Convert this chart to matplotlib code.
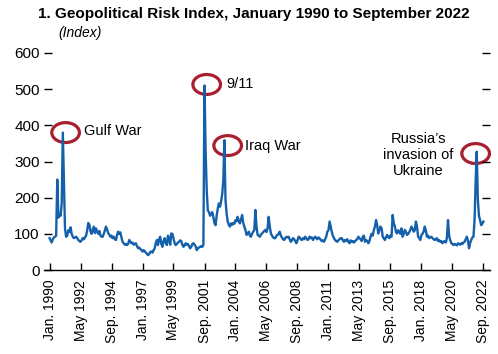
import numpy as np
import pandas as pd
import matplotlib
matplotlib.use("Agg")
import matplotlib.pyplot as plt
import matplotlib.dates as mdates
from matplotlib.patches import Ellipse

plt.rcParams['font.family'] = ['Liberation Sans', 'DejaVu Sans']

# monthly Geopolitical Risk Index, Jan 1990 - Sep 2022
gpr_1990 = [88, 82, 76, 85, 90, 92, 95, 250, 145, 155, 150, 185]
gpr_1991 = [380, 240, 115, 92, 95, 110, 105, 118, 100, 92, 88, 90]
gpr_1992 = [92, 88, 83, 80, 78, 82, 88, 85, 90, 95, 110, 130]
gpr_1993 = [125, 106, 100, 110, 120, 102, 115, 106, 100, 108, 95, 92]
gpr_1994 = [92, 100, 110, 120, 112, 102, 98, 92, 95, 88, 92, 85]
gpr_1995 = [83, 97, 106, 100, 104, 90, 78, 74, 70, 72, 69, 72]
gpr_1996 = [83, 78, 74, 76, 70, 72, 74, 66, 60, 62, 58, 55]
gpr_1997 = [51, 55, 52, 48, 45, 41, 44, 50, 51, 48, 55, 60]
gpr_1998 = [75, 83, 69, 85, 92, 72, 64, 80, 88, 75, 69, 95]
gpr_1999 = [85, 70, 101, 100, 88, 75, 69, 72, 76, 78, 82, 80]
gpr_2000 = [70, 64, 68, 74, 70, 72, 66, 60, 64, 72, 74, 70]
gpr_2001 = [65, 55, 60, 62, 64, 66, 64, 69, 510, 330, 220, 165]
gpr_2002 = [160, 150, 155, 160, 147, 130, 124, 150, 170, 184, 175, 190]
gpr_2003 = [210, 250, 359, 194, 157, 134, 125, 120, 129, 125, 130, 128]
gpr_2004 = [138, 135, 147, 135, 129, 140, 152, 130, 120, 110, 97, 100]
gpr_2005 = [106, 95, 92, 100, 106, 110, 166, 120, 97, 95, 92, 98]
gpr_2006 = [101, 105, 108, 111, 105, 115, 147, 120, 101, 95, 90, 88]
gpr_2007 = [88, 95, 97, 100, 106, 95, 90, 85, 83, 88, 92, 90]
gpr_2008 = [92, 85, 78, 82, 88, 85, 80, 74, 82, 92, 90, 85]
gpr_2009 = [83, 88, 85, 92, 88, 83, 85, 92, 88, 90, 83, 88]
gpr_2010 = [92, 88, 85, 90, 88, 83, 80, 82, 78, 85, 92, 106]
gpr_2011 = [110, 134, 120, 106, 95, 88, 83, 80, 78, 82, 85, 88]
gpr_2012 = [88, 82, 78, 83, 80, 85, 78, 74, 82, 78, 80, 76]
gpr_2013 = [80, 83, 85, 92, 88, 85, 80, 92, 95, 78, 83, 80]
gpr_2014 = [74, 80, 92, 100, 95, 110, 120, 138, 124, 101, 110, 120]
gpr_2015 = [115, 92, 88, 83, 90, 97, 92, 88, 95, 92, 152, 130]
gpr_2016 = [120, 105, 101, 110, 106, 100, 115, 92, 100, 111, 105, 97]
gpr_2017 = [100, 105, 111, 120, 115, 106, 110, 134, 120, 92, 88, 83]
gpr_2018 = [97, 100, 106, 120, 110, 92, 95, 88, 90, 92, 88, 85]
gpr_2019 = [83, 85, 88, 80, 83, 78, 80, 74, 78, 80, 76, 88]
gpr_2020 = [138, 95, 83, 74, 72, 69, 72, 70, 68, 74, 72, 70]
gpr_2021 = [74, 72, 76, 78, 85, 92, 82, 60, 75, 83, 90, 92]
gpr_2022 = [140, 250, 327, 195, 150, 138, 124, 128, 134]

gpr = np.array(gpr_1990 + gpr_1991 + gpr_1992 + gpr_1993 + gpr_1994 + gpr_1995
               + gpr_1996 + gpr_1997 + gpr_1998 + gpr_1999 + gpr_2000 + gpr_2001
               + gpr_2002 + gpr_2003 + gpr_2004 + gpr_2005 + gpr_2006 + gpr_2007
               + gpr_2008 + gpr_2009 + gpr_2010 + gpr_2011 + gpr_2012 + gpr_2013
               + gpr_2014 + gpr_2015 + gpr_2016 + gpr_2017 + gpr_2018 + gpr_2019
               + gpr_2020 + gpr_2021 + gpr_2022, dtype=float)
dates = pd.date_range("1990-01-01", periods=len(gpr), freq="MS")

tick_labels = ["Jan. 1990", "May 1992", "Sep. 1994", "Jan. 1997", "May 1999",
               "Sep. 2001", "Jan. 2004", "May 2006", "Sep. 2008", "Jan. 2011",
               "May 2013", "Sep. 2015", "Jan. 2018", "May 2020", "Sep. 2022"]
tick_dates = dates[::28]

events = ["Gulf War", "9/11", "Iraq War", "Russia\u2019s\ninvasion of\nUkraine"]
event_dates = ["1991-01-01", "2001-09-01", "2003-03-01", "2022-03-01"]

blue = "#1460aa"
red = "#a8202f"

fig = plt.figure(figsize=(4.98, 3.54), dpi=100)
ax = fig.add_axes([44 / 498, 84 / 354, 446 / 498, 217 / 354])

ax.plot(dates, gpr, color=blue, lw=1.7, solid_joinstyle="round")

ax.set_ylim(0, 600)
ax.set_yticks(range(0, 601, 100))
ax.set_xlim(dates[0] - pd.DateOffset(months=5), dates[-1] + pd.DateOffset(months=6))
ax.set_xticks(tick_dates)
ax.set_xticklabels(tick_labels, rotation=90, fontsize=10)

for s in ["top", "left", "right"]:
    ax.spines[s].set_visible(False)
ax.spines["bottom"].set_linewidth(1.0)
ax.tick_params(axis="x", direction="in", length=5, width=1, pad=7)
ax.tick_params(axis="y", direction="in", length=6, width=1, pad=3,
               labelsize=11, right=True)

# circles and labels on the peaks
# (ellipse centre offset in months, offset in index, text position)
circ = [(2.5, 0), (2, 3), (3, -15), (-1, -5)]
for name, d, (dm, dv) in zip(events, event_dates, circ):
    d = pd.Timestamp(d)
    v = gpr[list(dates).index(d)]
    c = mdates.date2num(d + pd.DateOffset(days=int(dm * 30.4)))
    ax.add_patch(Ellipse((c, v + dv), width=25 * 30.4, height=55,
                         fill=False, ec=red, lw=2.3, clip_on=False))

ax.text(pd.Timestamp("1992-08-01"), 384, events[0], fontsize=10.5, va="center")
ax.text(pd.Timestamp("2003-05-01"), 514, events[1], fontsize=10.5, va="center")
ax.text(pd.Timestamp("2004-10-01"), 343, events[2], fontsize=10.5, va="center")
ax.text(pd.Timestamp("2017-10-01"), 318, events[3], fontsize=10.5,
        va="center", ha="center", linespacing=1.15)

fig.text(38 / 498, 1 - 14 / 354, "1. Geopolitical Risk Index, January 1990 to September 2022",
         fontsize=11, fontweight="bold", va="center",
         family=["Liberation Sans Narrow", "Liberation Sans", "DejaVu Sans"])
fig.text(58 / 498, 1 - 33 / 354, "(Index)", fontsize=10, style="italic", va="center")

fig.savefig("out.png", dpi=100)
